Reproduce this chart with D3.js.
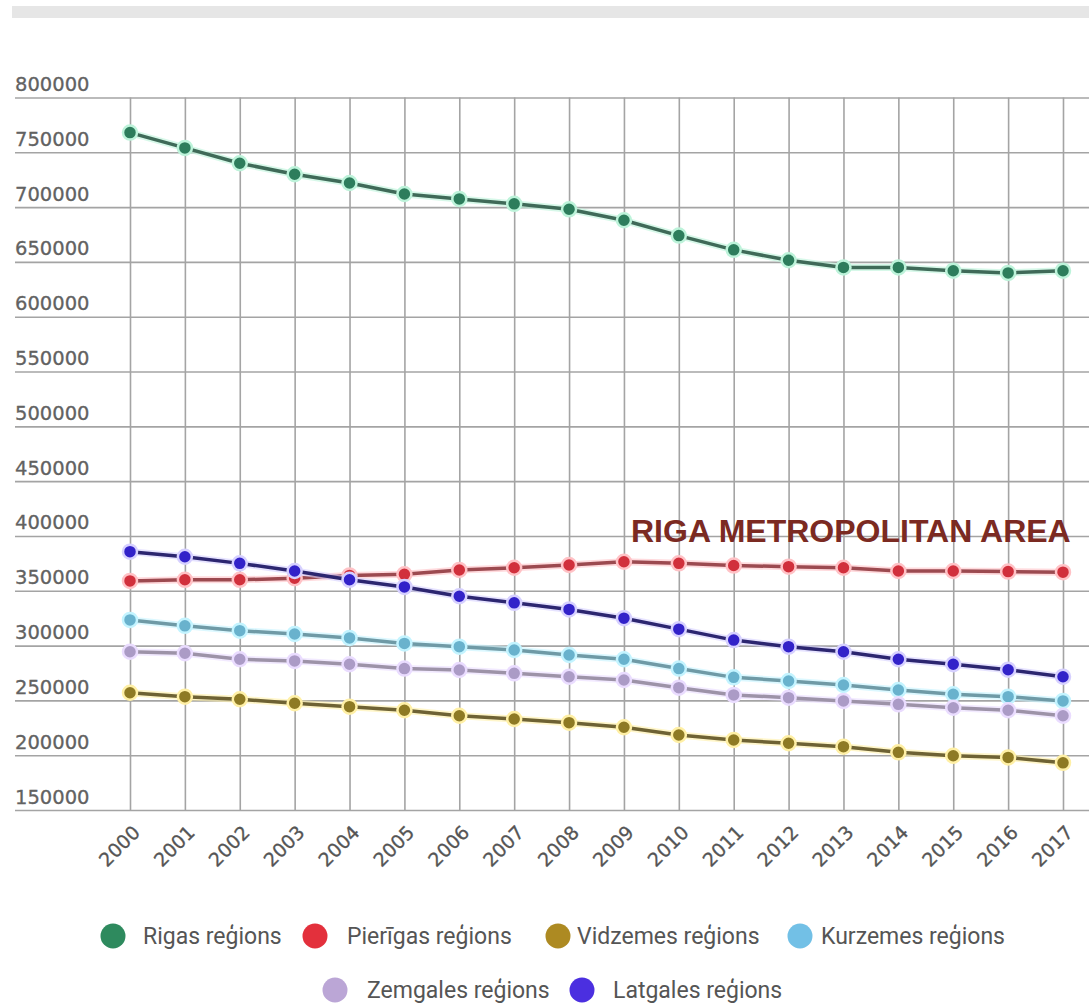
<!DOCTYPE html>
<html>
<head>
<meta charset="utf-8">
<script src="https://cdn.jsdelivr.net/npm/d3@7"></script>
<style>
  html, body { margin: 0; padding: 0; background: #fff; }
  svg { display: block; }
</style>
</head>
<body>
<svg id="chart" width="1089" height="1004"></svg>
<script>
const years = ["2000","2001","2002","2003","2004","2005","2006","2007","2008","2009","2010","2011","2012","2013","2014","2015","2016","2017"];
const yTicks = [150000,200000,250000,300000,350000,400000,450000,500000,550000,600000,650000,700000,750000,800000];

const rigas    = [768000,754000,740000,730000,722000,712000,707500,703000,698000,688000,674000,661000,651500,645000,645000,642000,640000,642000];
const pierigas = [359000,360000,360000,361500,364000,365000,369000,371000,373500,376500,375000,373000,372000,371000,368000,368000,367500,367000];
const vidzemes = [257000,253400,251000,247400,244300,241000,236000,233000,229700,225500,218400,213900,210900,207800,202600,199500,198000,193000];
const kurzemes = [323400,318000,313600,310600,307000,302000,299000,296000,291400,287500,279000,271000,267700,264000,259500,255600,253400,249500];
const zemgales = [294400,293000,287500,286000,283000,279000,277700,274700,271600,268600,261600,255000,252500,249500,246400,243300,241000,236000];
const latgales = [385700,381000,375000,368000,360000,353500,345000,339000,333000,325000,315000,305000,299000,294400,287500,283000,278000,271600];

const seriesNames = ["Rigas reģions","Pierīgas reģions","Vidzemes reģions","Kurzemes reģions","Zemgales reģions","Latgales reģions"];
const seriesValues = [rigas, pierigas, vidzemes, kurzemes, zemgales, latgales];
const markerColors = ["#2d7d5c","#d1303c","#8e7a24","#69b2cd","#ab9bc6","#3222c9"];
const lineColors   = ["#3f6a58","#9c4a50","#6e6234","#6f9aa6","#9d93a8","#2c2670"];
const haloColors   = ["#bdf3da","#ffc2c6","#fff0a6","#c4f4ff","#eadcff","#d6d0ff"];
const legendColors = ["#2e8a5e","#e3303c","#ad8a22","#72c0e6","#bba6d6","#4b2fe0"];
const annotation = "RIGA METROPOLITAN AREA";

const svg = d3.select("#chart");

// top grey bar
svg.append("rect").attr("x", 12).attr("y", 6).attr("width", 1077).attr("height", 12).attr("fill", "#e6e6e6");

const x = d3.scalePoint().domain(years).range([130, 1063]);
const y = d3.scaleLinear().domain([150000, 800000]).range([810, 97.5]);

// horizontal gridlines + labels
const yAxis = d3.axisLeft(y).tickValues(yTicks).tickSize(0).tickFormat(d3.format("d"));
const gy = svg.append("g").call(yAxis);
gy.select(".domain").remove();
gy.selectAll(".tick text")
  .attr("x", 15).attr("dy", -7).attr("text-anchor", "start")
  .attr("font-family", "'DejaVu Sans', Verdana, sans-serif").attr("font-size", 19.5)
  .attr("fill", "#626262").attr("stroke", "#626262").attr("stroke-width", 0.3);
gy.selectAll(".tick").append("line")
  .attr("x1", 15).attr("x2", 1089).attr("y1", 0).attr("y2", 0)
  .attr("stroke", "#a4a4a4").attr("stroke-width", 1.6);

// vertical gridlines + rotated year labels
const xAxis = d3.axisBottom(x).tickSize(0);
const gx = svg.append("g").attr("transform", "translate(0,810)").call(xAxis);
gx.select(".domain").remove();
gx.selectAll(".tick").append("line")
  .attr("x1", 0).attr("x2", 0).attr("y1", 0).attr("y2", -712.5)
  .attr("stroke", "#a4a4a4").attr("stroke-width", 1.6);
gx.selectAll(".tick text")
  .attr("text-anchor", "end")
  .attr("transform", "translate(6,19) rotate(-45)")
  .attr("x", 0).attr("y", 0).attr("dy", "0.35em")
  .attr("font-family", "'DejaVu Sans', Verdana, sans-serif").attr("font-size", 19)
  .attr("fill", "#555").attr("stroke", "#555").attr("stroke-width", 0.3);

// lines & markers
const line = d3.line().x((d, i) => x(years[i])).y(d => y(d));
seriesValues.forEach((vals, s) => {
  const g = svg.append("g");
  g.append("path").attr("d", line(vals)).attr("fill", "none")
    .attr("stroke", haloColors[s]).attr("stroke-width", 7).attr("stroke-opacity", 0.6)
    .attr("stroke-linejoin", "round");
  g.append("path").attr("d", line(vals)).attr("fill", "none")
    .attr("stroke", lineColors[s]).attr("stroke-width", 3.5)
    .attr("stroke-linejoin", "round");
  g.selectAll("circle").data(vals).join("circle")
    .attr("cx", (d, i) => x(years[i])).attr("cy", d => y(d)).attr("r", 7)
    .attr("fill", markerColors[s]).attr("stroke", haloColors[s]).attr("stroke-width", 2.5);
});

// annotation
svg.append("text").attr("x", 631).attr("y", 541.5)
  .attr("font-family", "'Liberation Sans', Arial, sans-serif").attr("font-weight", "bold")
  .attr("font-size", 32).attr("fill", "#7b2a22").text(annotation);

// legend
const legendItems = [
  {cx: 113, cy: 936, tx: 143},
  {cx: 315, cy: 936, tx: 347},
  {cx: 558, cy: 936, tx: 577},
  {cx: 800, cy: 936, tx: 821},
  {cx: 335, cy: 990, tx: 367},
  {cx: 582, cy: 990, tx: 613}
];
const lg = svg.append("g");
legendItems.forEach((it, i) => {
  lg.append("circle").attr("cx", it.cx).attr("cy", it.cy).attr("r", 12.5).attr("fill", legendColors[i]);
  lg.append("text").attr("x", it.tx).attr("y", it.cy).attr("dy", "0.35em")
    .attr("font-family", "Roboto, sans-serif").attr("font-size", 23)
    .attr("fill", "#555").text(seriesNames[i]);
});
</script>
</body>
</html>
